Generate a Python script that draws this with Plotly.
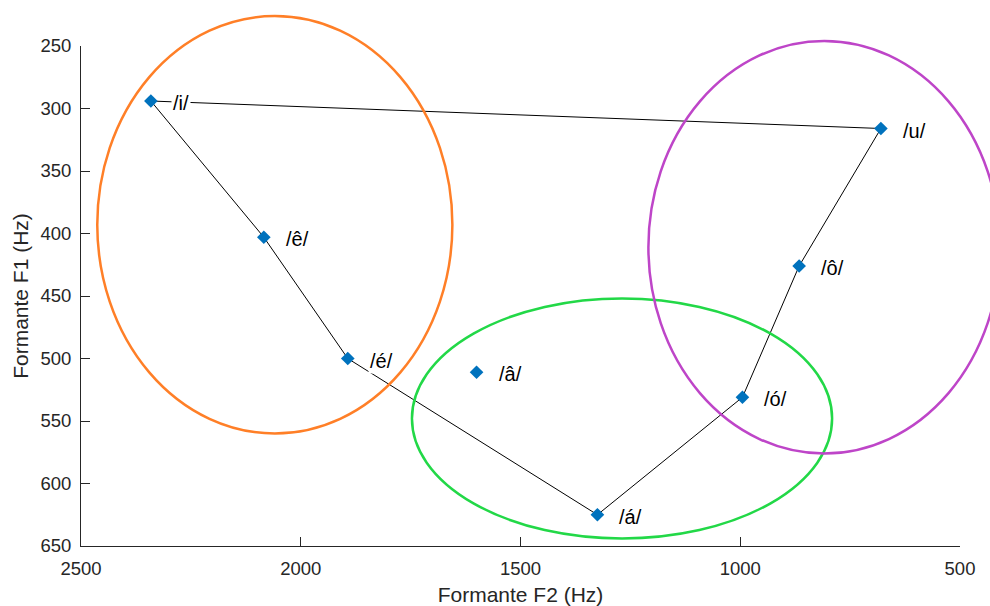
import plotly.graph_objects as go

# Vowel formant data
vowels = ["/i/", "/ê/", "/é/", "/â/", "/á/", "/ó/", "/ô/", "/u/"]
f2 = [2341, 2084, 1893, 1600, 1325, 995, 866, 680]
f1 = [294, 403, 500, 511, 625, 531, 426, 316]

# Connection order for the vowel triangle (â not connected)
path_order = ["/i/", "/ê/", "/é/", "/á/", "/ó/", "/ô/", "/u/", "/i/"]

# Ellipses: (center F2, center F1, radius F2, radius F1, colour)
ell_cx = [2059, 1269, 809]
ell_cy = [393, 548, 411]
ell_rx = [404, 478, 400]
ell_ry = [167, 96, 165]
ell_col = ["#FF7F27", "#22D847", "#BE45C8"]

x_range = [2500, 500]
y_range = [650, 250]
x_ticks = [2500, 2000, 1500, 1000, 500]
y_ticks = [250, 300, 350, 400, 450, 500, 550, 600, 650]

FONT = "Liberation Sans, Arial, Helvetica, sans-serif"
AX = "#262626"

fig = go.Figure()

idx = {v: i for i, v in enumerate(vowels)}
fig.add_trace(go.Scatter(
    x=[f2[idx[v]] for v in path_order],
    y=[f1[idx[v]] for v in path_order],
    mode="lines", line=dict(color="black", width=1), hoverinfo="skip",
    showlegend=False))

fig.add_trace(go.Scatter(
    x=f2, y=f1, mode="markers",
    marker=dict(symbol="diamond", size=10.5, color="#0072BD",
                line=dict(width=0)),
    showlegend=False, cliponaxis=False))

for v, x, y in zip(vowels, f2, f1):
    fig.add_annotation(x=x, y=y, text=v, showarrow=False, xanchor="left",
                       xshift=20, yshift=-2, bgcolor="white", borderpad=1,
                       font=dict(family=FONT, size=20, color="black"))


def to_paper_x(v):
    return (v - x_range[0]) / (x_range[1] - x_range[0])


def to_paper_y(v):
    return (v - y_range[0]) / (y_range[1] - y_range[0])


for cx, cy, rx, ry, c in zip(ell_cx, ell_cy, ell_rx, ell_ry, ell_col):
    fig.add_shape(type="circle", xref="paper", yref="paper",
                  x0=to_paper_x(cx + rx), x1=to_paper_x(cx - rx),
                  y0=to_paper_y(cy + ry), y1=to_paper_y(cy - ry),
                  line=dict(color=c, width=2.5), layer="above")

fig.update_layout(
    width=990, height=606,
    margin=dict(l=81, r=30, t=46, b=60),
    plot_bgcolor="white", paper_bgcolor="white",
    font=dict(family=FONT, size=18, color=AX),
    showlegend=False,
)
fig.update_xaxes(range=x_range, tickvals=x_ticks, ticks="inside", ticklen=9,
                 tickcolor=AX, showline=True, linecolor=AX, linewidth=1,
                 showgrid=False, zeroline=False, ticklabelstandoff=6,
                 automargin=False,
                 title=dict(text="Formante F2 (Hz)", standoff=10,
                            font=dict(size=21, color=AX)),
                 tickfont=dict(size=18.5, color=AX))
fig.update_yaxes(range=y_range, tickvals=y_ticks, ticks="inside", ticklen=9,
                 tickcolor=AX, showline=True, linecolor=AX, linewidth=1,
                 showgrid=False, zeroline=False, automargin=False,
                 ticklabelstandoff=5,
                 title=dict(text="Formante F1 (Hz)", standoff=6,
                            font=dict(size=21, color=AX)),
                 tickfont=dict(size=18.5, color=AX))

fig.write_html("out.html")
